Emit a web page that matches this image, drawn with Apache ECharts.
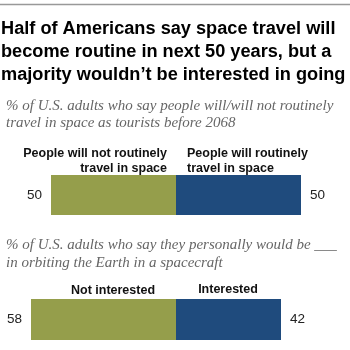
<!DOCTYPE html>
<html><head><meta charset="utf-8">
<script src="https://cdn.jsdelivr.net/npm/echarts@6/dist/echarts.min.js"></script>
<style>html,body{margin:0;padding:0;background:#fff;}#c{width:350px;height:350px;}</style>
</head><body><div id="c"></div>
<script>
const titleLines = ["Half of Americans say space travel will", "become routine in next 50 years, but a", "majority wouldn\u2019t be interested in going"];
const subtitle1 = ["% of U.S. adults who say people will/will not routinely", "travel in space as tourists before 2068"];
const subtitle2 = ["% of U.S. adults who say they personally would be ___", "in orbiting the Earth in a spacecraft"];
const chart1Categories = ["People will not routinely\ntravel in space", "People will routinely\ntravel in space"];
const chart1Values = [50, 50];
const chart2Categories = ["Not interested", "Interested"];
const chart2Values = [58, 42];

const GREEN = '#959E4B', BLUE = '#1F4B7D';
const sans = '"Liberation Sans", Arial, sans-serif';
const serif = '"Liberation Serif", "DejaVu Serif", serif';

const chart = echarts.init(document.getElementById('c'), null, {renderer: 'canvas'});

function grid(top, h) { return {left: 26, right: 24, top: top, height: h, containLabel: false}; }
function xAx(i) { return {gridIndex: i, type: 'value', min: -60, max: 60, show: false}; }
function yAx(i) { return {gridIndex: i, type: 'category', data: ['a'], show: false}; }
function lbl(pos) {
  return {show: true, position: pos, distance: 9, color: '#222', fontFamily: sans, fontSize: 13.5,
    formatter: p => Math.abs(p.value)};
}
function pair(i, vals) {
  return [
    {type: 'bar', xAxisIndex: i, yAxisIndex: i, stack: 's' + i, data: [-vals[0]], barWidth: '100%', itemStyle: {color: GREEN}, label: lbl('left'), silent: true, animation: false},
    {type: 'bar', xAxisIndex: i, yAxisIndex: i, stack: 's' + i, data: [vals[1]], barWidth: '100%', itemStyle: {color: BLUE}, label: lbl('right'), silent: true, animation: false}
  ];
}

const catStyle = {fontFamily: sans, fontWeight: 'bold', fontSize: 12.5, fill: '#111', lineHeight: 15};

chart.setOption({
  animation: false,
  title: [
    {text: subtitle1.join('\n'), left: 1, top: 93, textStyle: {fontFamily: serif, fontStyle: 'italic', fontWeight: 'normal', fontSize: 15, lineHeight: 17, color: '#666'}},
    {text: subtitle2.join('\n'), left: 1, top: 231, textStyle: {fontFamily: serif, fontStyle: 'italic', fontWeight: 'normal', fontSize: 15, lineHeight: 18, color: '#666'}}
  ],
  grid: [grid(175, 40), grid(299, 41)],
  xAxis: [xAx(0), xAx(1)],
  yAxis: [yAx(0), yAx(1)],
  series: [...pair(0, chart1Values), ...pair(1, chart2Values)],
  graphic: [
    {type: 'line', shape: {x1: 0, y1: 4.5, x2: 350, y2: 4.5}, style: {stroke: '#999', lineWidth: 1.5}},
    {type: 'text', x: 1, y: 18, scaleX: 1.01, style: {text: titleLines.join('\n'), fontFamily: sans, fontWeight: 'bold', fontSize: 18, lineHeight: 23, fill: '#000'}},
    {type: 'text', x: 167, y: 146, style: Object.assign({text: chart1Categories[0], align: 'right'}, catStyle)},
    {type: 'text', x: 187, y: 146, style: Object.assign({text: chart1Categories[1], align: 'left'}, catStyle)},
    {type: 'text', x: 113, y: 283, style: Object.assign({text: chart2Categories[0], align: 'center'}, catStyle)},
    {type: 'text', x: 228, y: 282, style: Object.assign({text: chart2Categories[1], align: 'center'}, catStyle)}
  ]
});
</script></body></html>
